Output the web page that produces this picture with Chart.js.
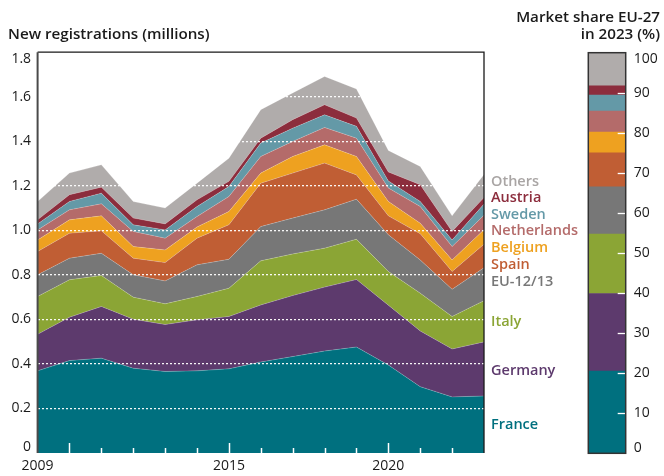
<!DOCTYPE html>
<html><head><meta charset="utf-8">
<script src="https://cdn.jsdelivr.net/npm/chart.js@4.4.0/dist/chart.umd.min.js"></script>
<style>
html,body{margin:0;padding:0;background:#fff;}
#wrap{position:relative;width:664px;height:476px;overflow:hidden;font-family:"Open Sans",sans-serif;}
#main{position:absolute;left:0;top:0;}
#bar{position:absolute;left:580px;top:0;}
.t{position:absolute;white-space:nowrap;font-weight:600;color:#1a1a1a;}
.lg{position:absolute;left:491px;font-size:14.5px;font-weight:600;line-height:18px;white-space:nowrap;}
</style></head><body>
<div id="wrap">
<canvas id="main" width="664" height="476"></canvas>
<canvas id="bar" width="84" height="476"></canvas>
<div class="t" style="left:8px;top:25px;font-size:15.2px;line-height:17px;">New registrations (millions)</div>
<div class="t" style="right:4px;top:8px;font-size:15.2px;text-align:right;line-height:17px;">Market share EU-27<br>in 2023 (%)</div>
</div>
<script>
// ---- data ----
const years = [2009,2010,2011,2012,2013,2014,2015,2016,2017,2018,2019,2020,2021,2022,2023];
const xTickLabels = ['2009','2015','2020'];
const longTickYears = [2010,2015,2020];
const yTickLabels = ['0','0.2','0.4','0.6','0.8','1.0','1.2','1.4','1.6','1.8'];
const shareTickLabels = ['0','10','20','30','40','50','60','70','80','90','100'];
const series = ['France','Germany','Italy','EU-12/13','Spain','Belgium','Netherlands','Sweden','Austria','Others'];

const france      = [0.369,0.415,0.426,0.381,0.366,0.369,0.378,0.409,0.433,0.458,0.476,0.395,0.298,0.252,0.256];
const germany     = [0.164,0.195,0.232,0.220,0.211,0.229,0.235,0.256,0.274,0.287,0.303,0.269,0.250,0.215,0.243];
const italy       = [0.170,0.168,0.139,0.099,0.093,0.105,0.127,0.198,0.187,0.175,0.181,0.151,0.170,0.146,0.185];
const eu1213      = [0.097,0.097,0.100,0.100,0.103,0.142,0.130,0.154,0.161,0.172,0.180,0.165,0.149,0.122,0.148];
const spain       = [0.105,0.112,0.101,0.075,0.082,0.120,0.155,0.195,0.202,0.210,0.109,0.085,0.118,0.080,0.106];
const belgium     = [0.052,0.060,0.067,0.052,0.057,0.050,0.060,0.045,0.075,0.082,0.083,0.065,0.047,0.052,0.065];
const netherlands = [0.045,0.045,0.054,0.068,0.053,0.047,0.067,0.075,0.067,0.078,0.082,0.060,0.075,0.060,0.065];
const sweden      = [0.027,0.038,0.048,0.030,0.037,0.045,0.045,0.060,0.060,0.057,0.053,0.032,0.023,0.030,0.050];
const austria     = [0.018,0.030,0.027,0.030,0.027,0.030,0.023,0.022,0.038,0.045,0.037,0.040,0.075,0.038,0.029];
const others      = [0.082,0.097,0.100,0.074,0.071,0.075,0.104,0.128,0.120,0.127,0.131,0.097,0.082,0.070,0.104];
const share2023   = [20.5,19.4,14.8,11.8,8.5,5.2,5.2,4.0,2.3,8.3];

// ---- styles ----
const colors = ['#00707f','#5d3a6d','#8ba535','#777777','#c05e34','#eea120','#b46b6a','#6499a7','#8c2d3d','#b0acab'];
const labelColors = ['#00707f','#5d3a6d','#8ba535','#777777','#c05e34','#eea120','#b46b6a','#6499a7','#8c2d3d','#a9a5a4'];
const labelCenters = [424,370,321,281,264,247.5,230.5,214,197.5,181];

const values = [france,germany,italy,eu1213,spain,belgium,netherlands,sweden,austria,others];
const FONT = '"Open Sans", sans-serif';

// legend labels (real text)
const wrap = document.getElementById('wrap');
series.forEach((s,i)=>{
  const d = document.createElement('div');
  d.className='lg'; d.textContent = s; d.style.color = labelColors[i];
  d.style.top = (labelCenters[i]-9.5)+'px';
  wrap.appendChild(d);
});

const mainDeco = {
  id:'mainDeco',
  afterDraw(chart){
    const {ctx, chartArea:a, scales:{x,y}} = chart;
    ctx.save();
    ctx.strokeStyle='#ffffff'; ctx.lineWidth=1.5;
    years.forEach((yr,i)=>{
      if(i===0||i===years.length-1) return;
      const px = Math.round(x.getPixelForValue(i))+0.5;
      const len = longTickYears.includes(yr)?10:5;
      ctx.beginPath(); ctx.moveTo(px,a.bottom); ctx.lineTo(px,a.bottom-len); ctx.stroke();
    });
    ctx.strokeStyle='#1a1a1a'; ctx.lineWidth=1.3;
    ctx.beginPath(); ctx.moveTo(a.left,a.top); ctx.lineTo(a.right,a.top); ctx.lineTo(a.right,a.bottom); ctx.stroke();
    ctx.strokeStyle='#4a4a4a'; ctx.lineWidth=2;
    ctx.beginPath(); ctx.moveTo(a.left,a.top); ctx.lineTo(a.left,a.bottom); ctx.stroke();
    ctx.fillStyle='#1a1a1a'; ctx.font='14px '+FONT; ctx.textAlign='right'; ctx.textBaseline='middle';
    yTickLabels.forEach(t=>{
      let py = y.getPixelForValue(parseFloat(t));
      py = Math.min(Math.max(py, a.top+7), a.bottom-5.5);
      ctx.fillText(t, a.left-6.5, py);
    });
    ctx.restore();
  }
};

new Chart(document.getElementById('main'), {
  type:'line',
  data:{
    labels: years.map(String),
    datasets: series.map((s,i)=>({
      label:s, data:values[i], backgroundColor:colors[i], borderColor:'rgba(255,255,255,0.25)',
      borderWidth:0.8, pointRadius:0, tension:0, fill: i===0?'origin':'-1'
    }))
  },
  options:{
    responsive:false, animation:false, devicePixelRatio:1,
    layout:{padding:{left:0,right:180,top:52.2,bottom:0}},
    plugins:{legend:{display:false},tooltip:{enabled:false}},
    scales:{
      x:{
        grid:{display:false, drawTicks:false}, border:{display:false},
        ticks:{autoSkip:false,maxRotation:0,padding:4.5,color:'#1a1a1a',font:{family:FONT,size:14},
          callback:(v,i)=> xTickLabels.includes(String(years[i])) ? String(years[i]) : ''},
        afterFit(s){ s.height = 23; }
      },
      y:{
        stacked:true, min:0, max:1.8,
        ticks:{stepSize:0.2, display:false},
        grid:{z:1, drawTicks:false, lineWidth:1.3,
          color:(c)=> (c.index===0 || c.index===yTickLabels.length-1) ? 'rgba(0,0,0,0)' : 'rgba(255,255,255,0.95)'},
        border:{display:false, dash:[2,2]},
        afterFit(s){ s.width = 37.6; }
      }
    }
  },
  plugins:[mainDeco]
});

const barDeco = {
  id:'barDeco',
  afterDraw(chart){
    const {ctx, chartArea:a, scales:{y}} = chart;
    ctx.save();
    ctx.strokeStyle='#ffffff'; ctx.lineWidth=1.3;
    shareTickLabels.forEach((t,i)=>{
      if(i===0||i===shareTickLabels.length-1) return;
      const py = Math.round(y.getPixelForValue(parseFloat(t)))+0.5;
      ctx.beginPath(); ctx.moveTo(a.right-8,py); ctx.lineTo(a.right,py); ctx.stroke();
    });
    ctx.strokeStyle='#333333'; ctx.lineWidth=1.5;
    ctx.strokeRect(a.left,a.top,a.right-a.left,a.bottom-a.top);
    ctx.fillStyle='#1a1a1a'; ctx.font='14px '+FONT; ctx.textAlign='left'; ctx.textBaseline='middle';
    shareTickLabels.forEach(t=>{
      let py = y.getPixelForValue(parseFloat(t));
      py = Math.min(Math.max(py, a.top+6), a.bottom-5.5);
      ctx.fillText(t, a.right+8, py);
    });
    ctx.restore();
  }
};

new Chart(document.getElementById('bar'), {
  type:'bar',
  data:{
    labels:['2023'],
    datasets: series.map((s,i)=>({label:s, data:[share2023[i]], backgroundColor:colors[i], borderWidth:0,
      barPercentage:1, categoryPercentage:1}))
  },
  options:{
    responsive:false, animation:false, devicePixelRatio:1,
    layout:{padding:{left:8.3,right:0,top:52.7,bottom:22.7}},
    plugins:{legend:{display:false},tooltip:{enabled:false}},
    scales:{
      x:{stacked:true, display:false},
      y:{stacked:true, position:'right', min:0, max:100,
        ticks:{stepSize:10, display:false}, grid:{display:false}, border:{display:false},
        afterFit(s){ s.width = 38.3; }}
    }
  },
  plugins:[barDeco]
});
</script>
</body></html>
